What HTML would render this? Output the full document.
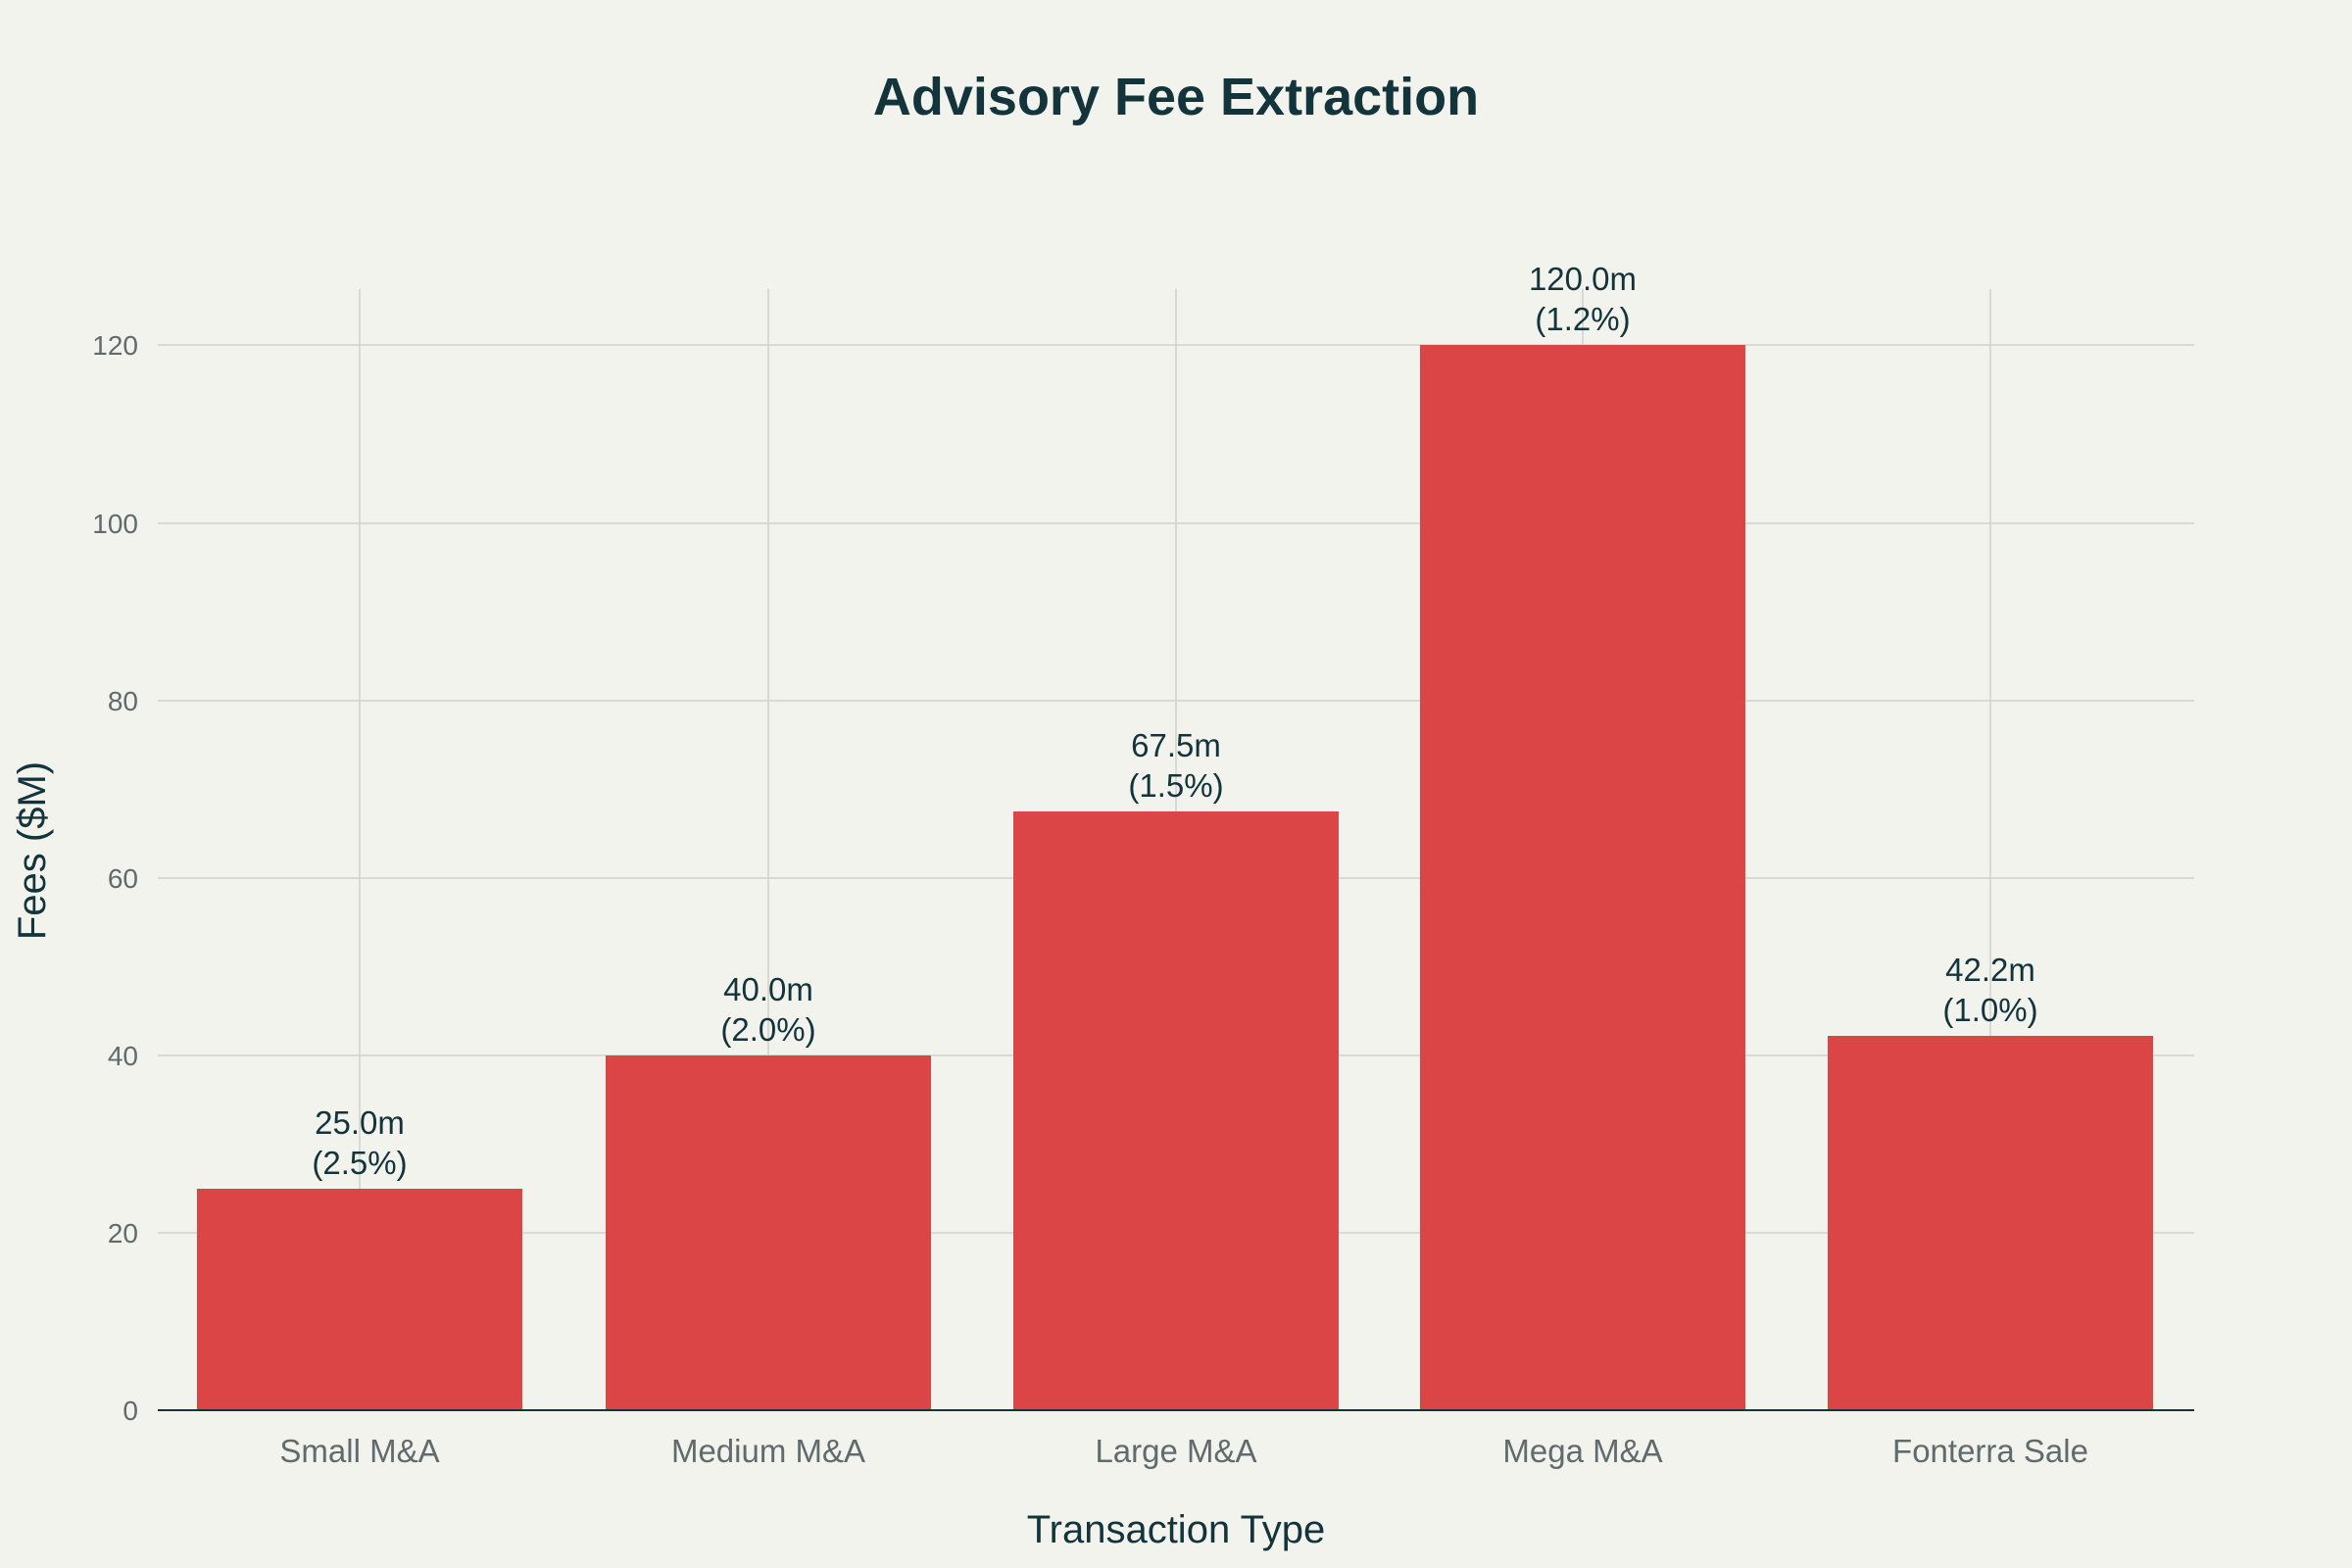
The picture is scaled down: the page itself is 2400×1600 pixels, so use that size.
<!DOCTYPE html>
<html><head><meta charset="utf-8"><style>
html,body{margin:0;padding:0;background:#f3f3ee;}
svg{display:block;font-family:"Liberation Sans",sans-serif;}
</style></head><body>
<svg width="2400" height="1600" viewBox="0 0 2400 1600">
<rect width="2400" height="1600" fill="#f3f3ee"/>
<text x="1200" y="117" text-anchor="middle" font-size="54" font-weight="bold" fill="#13343b">Advisory Fee Extraction</text>
<g stroke="#d2d2cc" stroke-width="1.5">
<line x1="161" x2="2239" y1="1258" y2="1258"/>
<line x1="161" x2="2239" y1="1077" y2="1077"/>
<line x1="161" x2="2239" y1="896" y2="896"/>
<line x1="161" x2="2239" y1="715" y2="715"/>
<line x1="161" x2="2239" y1="534" y2="534"/>
<line x1="161" x2="2239" y1="352" y2="352"/>
<line x1="367" x2="367" y1="295" y2="1439"/>
<line x1="784" x2="784" y1="295" y2="1439"/>
<line x1="1200" x2="1200" y1="295" y2="1439"/>
<line x1="1615" x2="1615" y1="295" y2="1439"/>
<line x1="2031" x2="2031" y1="295" y2="1439"/>
</g>
<g fill="#db4545">
<rect x="201" y="1213" width="332" height="226"/>
<rect x="618" y="1077" width="332" height="362"/>
<rect x="1034" y="828" width="332" height="611"/>
<rect x="1449" y="352" width="332" height="1087"/>
<rect x="1865" y="1057" width="332" height="382"/>
</g>
<line x1="161" x2="2239" y1="1439" y2="1439" stroke="#13343b" stroke-width="2"/>
<g font-size="33" fill="#13343b" text-anchor="middle">
<text x="367" y="1157">25.0m</text><text x="367" y="1198">(2.5%)</text>
<text x="784" y="1021">40.0m</text><text x="784" y="1062">(2.0%)</text>
<text x="1200" y="772">67.5m</text><text x="1200" y="813">(1.5%)</text>
<text x="1615" y="296">120.0m</text><text x="1615" y="337">(1.2%)</text>
<text x="2031" y="1001">42.2m</text><text x="2031" y="1042">(1.0%)</text>
</g>
<g font-size="28" fill="#5f6b6d" text-anchor="end">
<text x="141" y="1449">0</text>
<text x="141" y="1268">20</text>
<text x="141" y="1087">40</text>
<text x="141" y="906">60</text>
<text x="141" y="725">80</text>
<text x="141" y="544">100</text>
<text x="141" y="362">120</text>
</g>
<g font-size="33" fill="#5f6b6d" text-anchor="middle">
<text x="367" y="1492">Small M&amp;A</text>
<text x="784" y="1492">Medium M&amp;A</text>
<text x="1200" y="1492">Large M&amp;A</text>
<text x="1615" y="1492">Mega M&amp;A</text>
<text x="2031" y="1492">Fonterra Sale</text>
</g>
<text x="1200" y="1574" text-anchor="middle" font-size="40" fill="#13343b">Transaction Type</text>
<text transform="translate(46,868) rotate(-90)" text-anchor="middle" font-size="40" fill="#13343b">Fees ($M)</text>
</svg>
</body></html>
